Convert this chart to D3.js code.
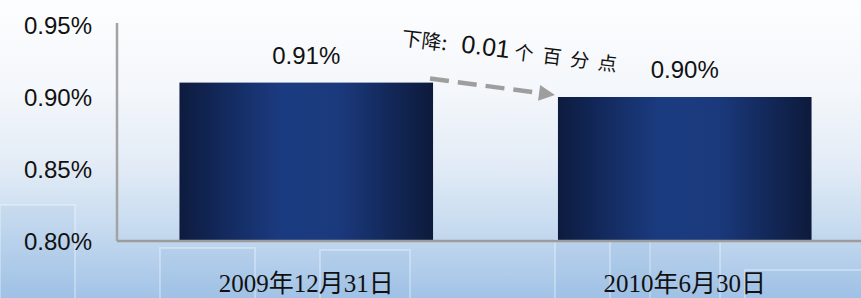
<!DOCTYPE html>
<html>
<head>
<meta charset="utf-8">
<script src="https://cdn.jsdelivr.net/npm/d3@7"></script>
<style>
    body { margin: 0; padding: 0; overflow: hidden; }
    #chart { width: 861px; height: 298px; }
</style>
</head>
<body>
<div id="chart"></div>
<script>
// Periods and ratio values (%)
var periods = ['2009年12月31日', '2010年6月30日'];
var ratios = [0.91, 0.90];
var yTicks = [0.80, 0.85, 0.90, 0.95];
var changeLabel = ['下降: ', '0.01', '个百分点'];

var width = 861, height = 298;
var margin = {top: 25, left: 117, bottom: 57};

var svg = d3.select('#chart').append('svg')
    .attr('width', width)
    .attr('height', height);

var defs = svg.append('defs');

// background: pale sky gradient
var bg = defs.append('linearGradient')
    .attr('id', 'bg').attr('x1', 0).attr('y1', 0).attr('x2', 0).attr('y2', 1);
[[0, '#fcfdfe'], [0.3, '#f4f7fb'], [0.55, '#e3ecf6'], [0.75, '#c9dcf0'], [1, '#a2c3e7']].forEach(function(s) {
    bg.append('stop').attr('offset', s[0]).attr('stop-color', s[1]);
});

// bar fill: dark edges, lighter centre
var barGrad = defs.append('linearGradient')
    .attr('id', 'bar').attr('x1', 0).attr('y1', 0).attr('x2', 1).attr('y2', 0);
[[0, '#0d1b3e'], [0.18, '#132a5e'], [0.4, '#1b3b80'], [0.62, '#1b3a7e'], [0.82, '#13295b'], [1, '#0d1a3b']].forEach(function(s) {
    barGrad.append('stop').attr('offset', s[0]).attr('stop-color', s[1]);
});

svg.append('rect')
    .attr('width', width).attr('height', height)
    .attr('fill', 'url(#bg)');

// faint window shapes of the backdrop
var deco = [[0, 205, 75, 100], [160, 248, 95, 60], [320, 250, 90, 60], [555, 240, 95, 70], [610, 240, 110, 70], [745, 270, 120, 40]];
svg.append('g').selectAll('rect')
    .data(deco)
    .enter().append('rect')
    .attr('x', function(d) { return d[0]; })
    .attr('y', function(d) { return d[1]; })
    .attr('width', function(d) { return d[2]; })
    .attr('height', function(d) { return d[3]; })
    .attr('fill', 'rgba(140,180,225,0.12)')
    .attr('stroke', 'rgba(255,255,255,0.3)')
    .attr('stroke-width', 2);

var y0 = height - margin.bottom;
var x = d3.scaleBand()
    .domain(periods)
    .range([margin.left, margin.left + 757])
    .paddingInner(0.33)
    .paddingOuter(0.165);

var y = d3.scaleLinear()
    .domain([0.80, 0.95])
    .range([y0, y0 - 216]);

// bars
svg.selectAll('.bar')
    .data(periods)
    .enter().append('rect')
    .attr('class', 'bar')
    .attr('x', function(d) { return x(d); })
    .attr('y', function(d, i) { return y(ratios[i]); })
    .attr('width', x.bandwidth())
    .attr('height', function(d, i) { return y0 - y(ratios[i]); })
    .attr('fill', 'url(#bar)');

// y axis
var yAxis = d3.axisLeft(y)
    .tickValues(yTicks)
    .tickSize(0)
    .tickPadding(25)
    .tickFormat(function(d) { return d.toFixed(2) + '%'; });

var gy = svg.append('g')
    .attr('transform', 'translate(' + margin.left + ',0)')
    .call(yAxis);
gy.select('.domain').remove();
gy.selectAll('text')
    .attr('font-family', 'Arial, "Liberation Sans", sans-serif')
    .attr('font-size', '24px')
    .attr('fill', '#111')
    .attr('dy', '0.35em');

// x axis
var xAxis = d3.axisBottom(x).tickSize(0).tickPadding(33);
var gx = svg.append('g')
    .attr('transform', 'translate(0,' + y0 + ')')
    .call(xAxis);
gx.select('.domain').remove();
gx.selectAll('text')
    .attr('font-family', '"Liberation Serif", "Noto Sans CJK SC", serif')
    .attr('font-size', '25px')
    .attr('fill', '#111');

// axis lines
svg.append('line')
    .attr('x1', margin.left).attr('x2', width)
    .attr('y1', y0).attr('y2', y0)
    .attr('stroke', '#9c9c9c').attr('stroke-width', 2.5);
svg.append('line')
    .attr('x1', margin.left).attr('x2', margin.left)
    .attr('y1', y(0.95) - 2).attr('y2', y0)
    .attr('stroke', '#a3a3a3').attr('stroke-width', 2.5);

// value labels
svg.selectAll('.val')
    .data(periods)
    .enter().append('text')
    .attr('class', 'val')
    .attr('x', function(d) { return x(d) + x.bandwidth() / 2; })
    .attr('y', function(d, i) { return y(ratios[i]) - 19; })
    .attr('text-anchor', 'middle')
    .attr('font-family', 'Arial, "Liberation Sans", sans-serif')
    .attr('font-size', '24px')
    .attr('fill', '#111')
    .text(function(d, i) { return ratios[i].toFixed(2) + '%'; });

// change arrow between the bars
var ax1 = x(periods[0]) + x.bandwidth() - 3, ay1 = y(ratios[0]) - 4;
var ax2 = x(periods[1]) - 3, ay2 = y(ratios[1]) - 2;
var ang = Math.atan2(ay2 - ay1, ax2 - ax1);
var head = 16;
var bx = ax2 - head * Math.cos(ang), by = ay2 - head * Math.sin(ang);

svg.append('line')
    .attr('x1', ax1).attr('y1', ay1)
    .attr('x2', bx).attr('y2', by)
    .attr('stroke', '#9e9e9e')
    .attr('stroke-width', 4.5)
    .attr('stroke-dasharray', '19,9');

var px = -Math.sin(ang) * 8, py = Math.cos(ang) * 8;
svg.append('path')
    .attr('d', 'M' + ax2 + ',' + ay2 + 'L' + (bx + px) + ',' + (by + py) + 'L' + (bx - px) + ',' + (by - py) + 'Z')
    .attr('fill', '#9e9e9e');

var note = svg.append('text')
    .attr('transform', 'translate(401,45) rotate(7)')
    .attr('font-family', '"Noto Sans CJK SC", sans-serif')
    .attr('fill', '#111');
note.append('tspan')
    .attr('font-size', '20px')
    .text(changeLabel[0]);
note.append('tspan')
    .attr('font-family', 'Arial, "Liberation Sans", sans-serif')
    .attr('font-size', '25px')
    .attr('dx', 10)
    .text(changeLabel[1]);
note.append('tspan')
    .attr('font-size', '19px')
    .attr('dx', 5)
    .attr('letter-spacing', '9px')
    .text(changeLabel[2]);
</script>
</body>
</html>
